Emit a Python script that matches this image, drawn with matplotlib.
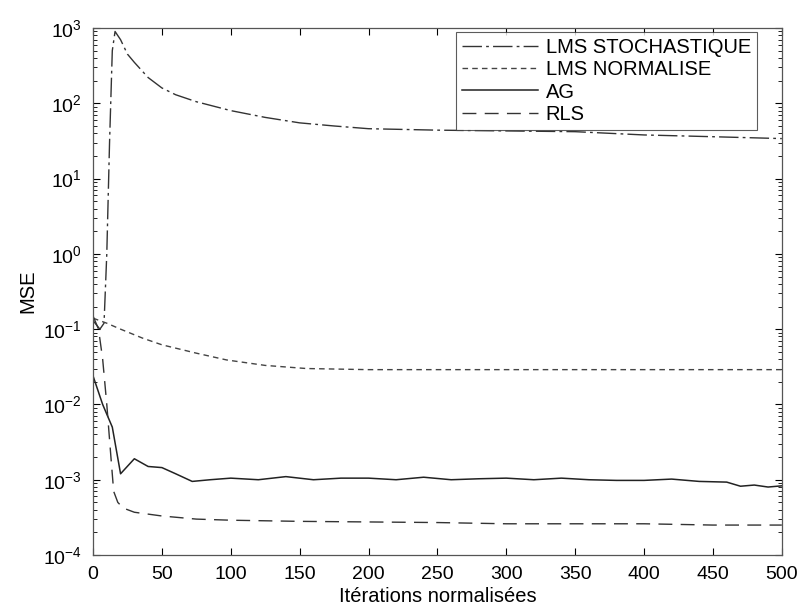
import matplotlib
matplotlib.use("Agg")
import matplotlib.pyplot as plt
from matplotlib.ticker import LogLocator, NullFormatter

# LMS stochastique
lms_sto_x = [0, 5, 8, 10, 12, 14, 16, 20, 25, 30, 40, 50, 60, 75, 100, 125, 150, 175, 200, 250, 300, 350, 400, 450, 500]
lms_sto_y = [0.13, 0.1, 0.12, 1.0, 30, 500, 900, 700, 450, 350, 220, 160, 130, 105, 80, 65, 55, 50, 46, 44, 43, 42, 38, 36, 34]

# LMS normalise
lms_norm_x = [0, 10, 20, 36, 50, 75, 97, 125, 155, 200, 250, 300, 350, 400, 450, 500]
lms_norm_y = [0.14, 0.12, 0.1, 0.076, 0.062, 0.048, 0.039, 0.033, 0.030, 0.029, 0.029, 0.029, 0.029, 0.029, 0.029, 0.029]

# AG
ag_x = [0, 7, 14, 20, 30, 40, 50, 60, 72, 85, 100, 120, 140, 160, 180, 200, 220, 240, 260,
        280, 300, 320, 340, 360, 380, 400, 420, 440, 460, 470, 480, 490, 500]
ag_y = [0.024, 0.01, 0.005, 0.0012, 0.0019, 0.0015, 0.00145, 0.0012, 0.00095, 0.001, 0.00105,
        0.001, 0.0011, 0.001, 0.00105, 0.00105, 0.001, 0.00108, 0.001, 0.00103, 0.00105, 0.001,
        0.00105, 0.001, 0.00098, 0.00098, 0.00102, 0.00095, 0.00093, 0.00082, 0.00085, 0.0008, 0.00083]

# RLS
rls_x = [0, 4, 7, 10, 13, 15, 18, 22, 30, 50, 75, 100, 150, 200, 250, 300, 350, 400, 450, 500]
rls_y = [0.15, 0.1, 0.04, 0.01, 0.002, 0.0007, 0.0005, 0.00042, 0.00037, 0.00033, 0.0003,
         0.00029, 0.00028, 0.000275, 0.00027, 0.00026, 0.00026, 0.00026, 0.00025, 0.00025]

plt.rcParams.update({
    "font.family": "Liberation Sans",
    "font.size": 13,
    "xtick.direction": "in",
    "ytick.direction": "in",
    "xtick.top": True,
    "ytick.right": True,
})

fig = plt.figure(figsize=(8.06, 6.12), dpi=100)
ax = fig.add_axes([0.1154, 0.0931, 0.8546, 0.8611])

ax.plot(lms_sto_x, lms_sto_y, color="#333333", lw=1.0, ls=(0, (14, 3, 2, 3)), label="LMS STOCHASTIQUE")
ax.plot(lms_norm_x, lms_norm_y, color="#444444", lw=1.0, ls=(0, (4, 3)), label="LMS NORMALISE")
ax.plot(ag_x, ag_y, color="#222222", lw=1.1, ls="-", label="AG")
ax.plot(rls_x, rls_y, color="#333333", lw=1.0, ls=(0, (10, 6)), label="RLS")

ax.set_yscale("log")
ax.set_xlim(0, 500)
ax.set_ylim(1e-4, 1e3)
ax.set_xticks(range(0, 501, 50))
ax.yaxis.set_major_locator(LogLocator(base=10, numticks=10))
ax.yaxis.set_minor_locator(LogLocator(base=10, subs=range(2, 10), numticks=100))
ax.yaxis.set_minor_formatter(NullFormatter())
ax.tick_params(which="major", length=5, width=0.8, labelsize=14)
ax.tick_params(which="minor", length=3, width=0.6)
ax.tick_params(axis="x", pad=8)
ax.tick_params(axis="y", pad=8)

for s in ax.spines.values():
    s.set_color("#555555")
    s.set_linewidth(0.9)

ax.set_xlabel("Itérations normalisées", fontsize=14.5, labelpad=3)
ax.set_ylabel("MSE", fontsize=14.5, labelpad=4)

leg = ax.legend(loc="upper right", bbox_to_anchor=(0.9637, 0.9924), fontsize=14.5,
                frameon=True, fancybox=False, edgecolor="#333333", handlelength=3.8,
                borderpad=0.3, labelspacing=0.16, handletextpad=0.35, borderaxespad=0.0)
leg.get_frame().set_linewidth(0.8)

fig.savefig("out.png", dpi=100)
